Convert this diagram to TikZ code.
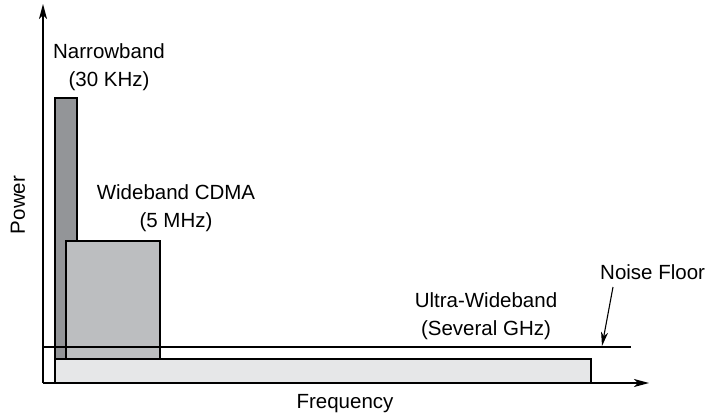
\documentclass[tikz,border=0pt]{standalone}
\usepackage{fontspec}
\setmainfont{Liberation Sans}
\usetikzlibrary{arrows.meta}
\definecolor{nbfill}{HTML}{939598}
\definecolor{wbfill}{HTML}{BCBEC0}
\definecolor{uwbfill}{HTML}{E6E7E8}
\begin{document}
\begin{tikzpicture}[x=1pt,y=-1pt,
  band/.style={draw=black, line width=1.3pt},
  axis/.style={line width=1.2pt, -{Stealth[length=15pt,width=8pt,inset=4pt]}},
  lbl/.style={font=\fontsize{20.5}{26}\selectfont, align=center, inner sep=0pt},
  ]
\useasboundingbox (0,0) rectangle (712,418);
% bands
\filldraw[band, fill=uwbfill] (55,359) rectangle (591,383);
\filldraw[band, fill=nbfill] (55,98) rectangle (77,359);
\filldraw[band, fill=wbfill] (66,241) rectangle (160,359);
% noise floor line
\coordinate (nfl) at (43,347);
\coordinate (nfr) at (631,347);
\draw[line width=1.3pt] (nfl) -- (nfr);
% axes
\coordinate (o) at (43,383);
\coordinate (ytip) at (43,4);
\coordinate (xtip) at (649,383);
\draw[axis] (o) -- (ytip);
\draw[axis] (o) -- (xtip);
% labels
\node[lbl] (nb) at (109,67) {Narrowband\\[2pt](30 KHz)};
\node[lbl] (wb) at (176,208) {Wideband CDMA\\[2pt](5 MHz)};
\node[lbl] (uwb) at (486,316) {Ultra-Wideband\\[2pt](Several GHz)};
\node[lbl, anchor=west] (nf) at (600,272) {Noise Floor};
\node[lbl, rotate=90] (pw) at (18,205) {Power};
\node[lbl] (fq) at (345,404) {Frequency};
% noise floor pointer
\coordinate (nfp) at (602,346);
\draw[line width=1.1pt, -{Stealth[length=14pt,width=7pt,inset=4pt]}] (613,287) -- (nfp);
\end{tikzpicture}
\end{document}
